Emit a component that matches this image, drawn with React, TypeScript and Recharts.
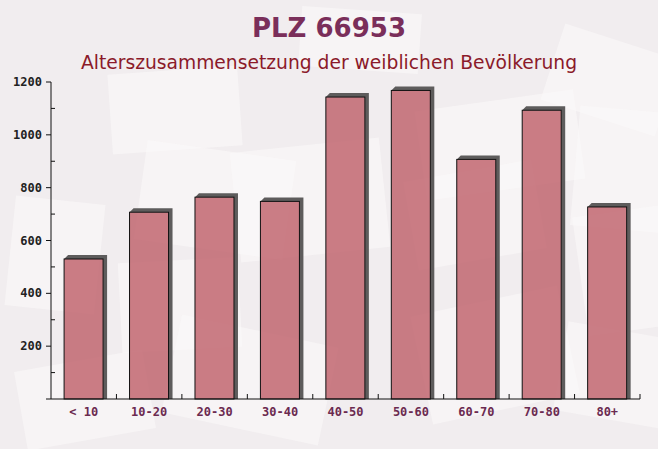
import React from "react";
import { BarChart, Bar, XAxis, YAxis } from "recharts";

const ageGroups = ["< 10", "10-20", "20-30", "30-40", "40-50", "50-60", "60-70", "70-80", "80+"];
const femaleCounts = [530, 707, 764, 748, 1143, 1168, 907, 1093, 727];
const yTicks = [0, 100, 200, 300, 400, 500, 600, 700, 800, 900, 1000, 1100, 1200];

const data = ageGroups.map((group, i) => ({ group, value: femaleCounts[i] }));

const W = 658;
const H = 449;
const AXIS_X = 51;
const AXIS_Y = 399;
const margin = { top: 82, right: 18, bottom: 20, left: 0 };
const band = (W - AXIS_X - margin.right) / ageGroups.length;
const depth = 4;

// faint envelope shapes in the background
const envelopes = [
  { x: 110, y: 70, w: 130, h: 80, r: -4 },
  { x: 140, y: 150, w: 150, h: 100, r: 8 },
  { x: 235, y: 145, w: 150, h: 110, r: -6 },
  { x: 420, y: 100, w: 160, h: 90, r: -8 },
  { x: 550, y: 40, w: 120, h: 80, r: 18 },
  { x: 410, y: 170, w: 130, h: 90, r: -10 },
  { x: 575, y: 110, w: 110, h: 120, r: 5 },
  { x: 10, y: 200, w: 90, h: 110, r: 6 },
  { x: 120, y: 260, w: 120, h: 90, r: -3 },
  { x: 170, y: 330, w: 160, h: 100, r: 12 },
  { x: 420, y: 300, w: 150, h: 110, r: -12 },
  { x: 580, y: 210, w: 100, h: 120, r: -8 },
  { x: 560, y: 330, w: 110, h: 90, r: 10 },
  { x: 20, y: 360, w: 130, h: 80, r: -10 },
  { x: 300, y: 10, w: 120, h: 60, r: 4 },
];

function ShadowBar(props: any) {
  const { x, y, width, height } = props;
  const b = y + height;
  return (
    <g>
      <polygon
        points={`${x},${y} ${x + depth},${y - depth} ${x + width + depth},${y - depth} ${x + width + depth},${b} ${x + width},${b} ${x + width},${y}`}
        fill="#5e5c5c"
      />
      <rect x={x} y={y} width={width} height={height} fill="rgba(190,94,104,0.8)" stroke="#111" strokeWidth={1} />
    </g>
  );
}

function YTick(props: any) {
  const { y, payload } = props;
  const v = payload.value;
  const ax = AXIS_X;
  const major = v % 200 === 0;
  return (
    <g>
      {major ? (
        <line x1={ax - 5} x2={ax} y1={y} y2={y} stroke="#111" />
      ) : (
        <line x1={ax} x2={ax + 4} y1={y} y2={y} stroke="#111" />
      )}
      {major && v > 0 && (
        <text
          x={ax - 9}
          y={y + 4}
          textAnchor="end"
          fontFamily="'DejaVu Sans Mono', monospace"
          fontWeight="bold"
          fontSize={12}
          fill="#222"
        >
          {v}
        </text>
      )}
    </g>
  );
}

function XTick(props: any) {
  const { x, payload } = props;
  return (
    <g>
      <line x1={x + band / 2} x2={x + band / 2} y1={AXIS_Y} y2={AXIS_Y - 5} stroke="#111" />
      <text
        x={x}
        y={AXIS_Y + 17}
        textAnchor="middle"
        fontFamily="'DejaVu Sans Mono', monospace"
        fontWeight="bold"
        fontSize={12}
        fill="#6b2a50"
      >
        {payload.value}
      </text>
    </g>
  );
}

export default function App() {
  return (
    <div style={{ position: "absolute", left: 0, top: 0, width: W, height: H, background: "#f1edef", overflow: "hidden" }}>
      <svg width={W} height={H} style={{ position: "absolute", left: 0, top: 0 }}>
        {envelopes.map((e, i) => (
          <rect
            key={i}
            x={e.x}
            y={e.y}
            width={e.w}
            height={e.h}
            fill="#fbf9f9"
            opacity={0.55}
            transform={`rotate(${e.r} ${e.x + e.w / 2} ${e.y + e.h / 2})`}
          />
        ))}
      </svg>
      <div
        style={{
          position: "absolute",
          left: 0,
          top: 13,
          width: W,
          textAlign: "center",
          fontFamily: "'DejaVu Sans', Verdana, sans-serif",
          fontWeight: "bold",
          fontSize: 26,
          color: "#7a2e5a",
        }}
      >
        PLZ 66953
      </div>
      <div
        style={{
          position: "absolute",
          left: 0,
          top: 52,
          width: W,
          textAlign: "center",
          fontFamily: "'DejaVu Sans', Verdana, sans-serif",
          fontSize: 18.7,
          color: "#8b1a2a",
        }}
      >
        Alterszusammensetzung der weiblichen Bevölkerung
      </div>
      <div style={{ position: "absolute", left: 0, top: 0 }}>
        <BarChart width={W} height={H} data={data} margin={margin} barCategoryGap="20%">
          <XAxis
            dataKey="group"
            height={30}
            axisLine={{ stroke: "#111" }}
            tickLine={false}
            interval={0}
            tick={<XTick />}
          />
          <YAxis
            domain={[0, 1200]}
            ticks={yTicks}
            interval={0}
            width={AXIS_X}
            axisLine={{ stroke: "#111" }}
            tickLine={false}
            tick={<YTick />}
          />
          <Bar dataKey="value" shape={<ShadowBar />} isAnimationActive={false} />
        </BarChart>
      </div>
    </div>
  );
}
